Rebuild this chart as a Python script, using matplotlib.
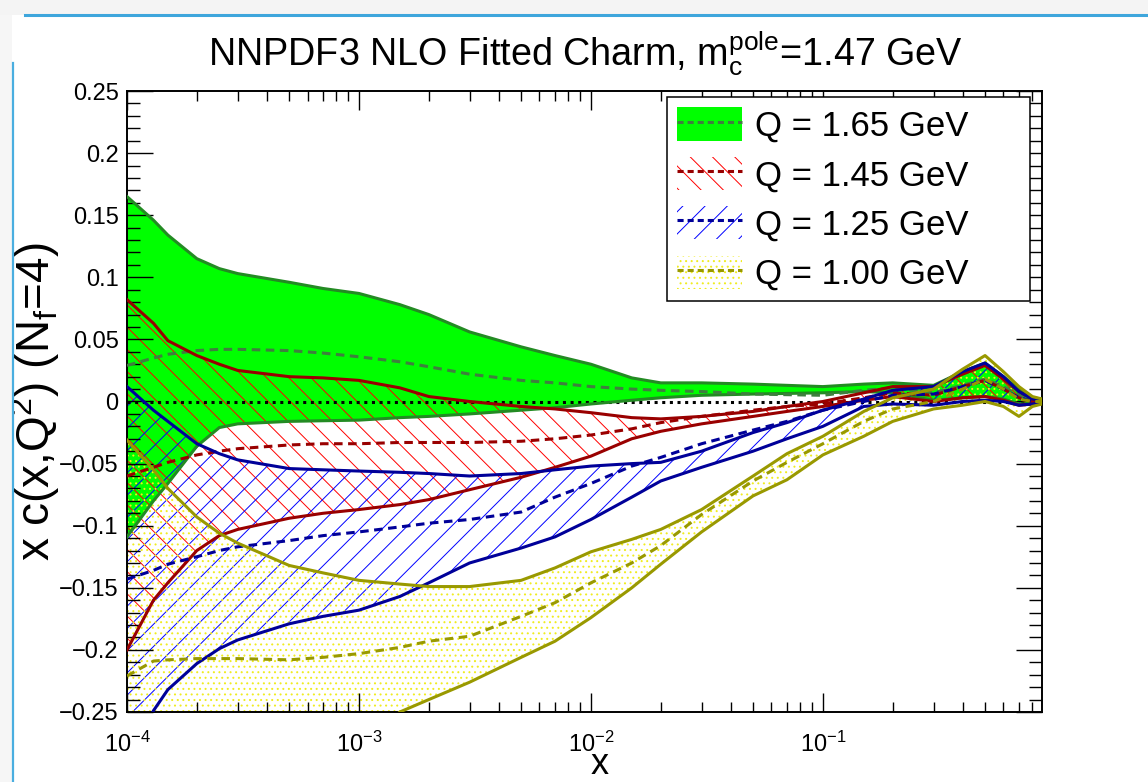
import numpy as np
import matplotlib
matplotlib.use("Agg")
import matplotlib.pyplot as plt
from matplotlib.patches import Patch, Rectangle
from matplotlib.lines import Line2D
from matplotlib.ticker import MultipleLocator, LogLocator, FuncFormatter, NullFormatter

# --- data (x grid shared by all bands) ---
x = [1e-4, 1.3e-4, 1.5e-4, 2e-4, 2.5e-4, 3e-4, 5e-4, 7e-4, 1e-3, 1.5e-3, 2e-3, 3e-3, 5e-3, 7e-3,
     1e-2, 1.5e-2, 2e-2, 3e-2, 5e-2, 7e-2, 0.1, 0.15, 0.2, 0.3, 0.4, 0.5, 0.6, 0.7, 0.8, 0.88]

# Q = 1.65 GeV
q165_up = [0.165, 0.146, 0.134, 0.115, 0.107, 0.103, 0.096, 0.091, 0.087, 0.078, 0.070, 0.056, 0.044, 0.037,
           0.030, 0.019, 0.015, 0.015, 0.014, 0.013, 0.012, 0.014, 0.015, 0.013, 0.024, 0.031, 0.020,
           0.010, 0.003, 0.002]
q165_lo = [-0.109, -0.080, -0.066, -0.036, -0.021, -0.018, -0.016, -0.0155, -0.015, -0.013, -0.012, -0.010,
           -0.007, -0.005, -0.002, 0.001, 0.003, 0.005, 0.006, 0.0065, 0.007, 0.008, 0.007, 0.001, 0.003,
           0.004, 0.002, -0.002, -0.002, -0.001]
q165_cv = [0.029, 0.035, 0.038, 0.041, 0.042, 0.042, 0.041, 0.039, 0.036, 0.032, 0.028, 0.022, 0.017, 0.015,
           0.012, 0.010, 0.009, 0.008, 0.006, 0.0055, 0.005, 0.009, 0.011, 0.007, 0.013, 0.018, 0.012,
           0.005, 0.001, 0.000]

# Q = 1.45 GeV
q145_up = [0.082, 0.063, 0.049, 0.037, 0.030, 0.025, 0.020, 0.019, 0.017, 0.011, 0.004, 0.000, -0.004,
           -0.006, -0.009, -0.013, -0.014, -0.012, -0.008, -0.004, 0.000, 0.007, 0.012, 0.012, 0.022, 0.029,
           0.018, 0.008, 0.002, 0.001]
q145_lo = [-0.200, -0.160, -0.146, -0.120, -0.108, -0.103, -0.094, -0.090, -0.087, -0.083, -0.079, -0.071,
           -0.061, -0.053, -0.044, -0.030, -0.024, -0.018, -0.012, -0.008, -0.004, 0.001, 0.004, 0.000, 0.003,
           0.004, 0.001, -0.003, -0.002, -0.001]
q145_cv = [-0.060, -0.053, -0.049, -0.043, -0.040, -0.038, -0.035, -0.034, -0.034, -0.033, -0.033, -0.033,
           -0.032, -0.030, -0.027, -0.022, -0.017, -0.012, -0.007, -0.004, -0.002, 0.003, 0.007, 0.005, 0.012,
           0.017, 0.010, 0.003, 0.000, 0.000]

# Q = 1.25 GeV
q125_up = [0.012, -0.007, -0.016, -0.034, -0.042, -0.047, -0.054, -0.055, -0.056, -0.057, -0.058, -0.060,
           -0.058, -0.055, -0.052, -0.050, -0.049, -0.040, -0.025, -0.017, -0.007, 0.002, 0.009, 0.012, 0.024,
           0.031, 0.020, 0.008, 0.002, 0.001]
q125_lo = [-0.300, -0.249, -0.232, -0.211, -0.199, -0.192, -0.179, -0.173, -0.168, -0.157, -0.146, -0.130,
           -0.118, -0.109, -0.095, -0.077, -0.064, -0.053, -0.040, -0.030, -0.020, -0.004, -0.002, -0.003,
           0.000, 0.001, 0.000, -0.003, -0.002, -0.001]
q125_cv = [-0.143, -0.136, -0.131, -0.125, -0.120, -0.117, -0.112, -0.108, -0.105, -0.101, -0.098, -0.095,
           -0.089, -0.077, -0.066, -0.052, -0.045, -0.034, -0.023, -0.016, -0.007, 0.000, 0.005, 0.006, 0.012,
           0.017, 0.010, 0.003, 0.000, 0.000]

# Q = 1.00 GeV
q100_up = [-0.031, -0.055, -0.070, -0.093, -0.106, -0.114, -0.132, -0.138, -0.144, -0.147, -0.149, -0.149,
           -0.144, -0.134, -0.121, -0.111, -0.103, -0.087, -0.060, -0.042, -0.028, -0.008, 0.003, 0.010, 0.026,
           0.037, 0.024, 0.012, 0.004, 0.002]
q100_lo = [-0.50, -0.46, -0.44, -0.41, -0.39, -0.37, -0.33, -0.30, -0.28, -0.250, -0.240, -0.226, -0.206,
           -0.193, -0.174, -0.150, -0.131, -0.105, -0.076, -0.063, -0.043, -0.028, -0.016, -0.006, -0.003,
           0.000, -0.004, -0.012, -0.004, -0.002]
q100_cv = [-0.221, -0.209, -0.208, -0.207, -0.207, -0.207, -0.208, -0.206, -0.203, -0.198, -0.193, -0.189,
           -0.173, -0.162, -0.146, -0.130, -0.116, -0.091, -0.064, -0.049, -0.034, -0.016, -0.006, 0.000, 0.010,
           0.018, 0.010, 0.002, 0.000, 0.000]

labels = ["Q = 1.65 GeV", "Q = 1.45 GeV", "Q = 1.25 GeV", "Q = 1.00 GeV"]

# --- style ---
plt.rcParams['font.family'] = ['Liberation Sans', 'DejaVu Sans']
plt.rcParams['mathtext.fontset'] = 'custom'
plt.rcParams['mathtext.rm'] = 'Liberation Sans'
plt.rcParams['mathtext.it'] = 'Liberation Sans:italic'
plt.rcParams['mathtext.default'] = 'regular'
plt.rcParams['hatch.linewidth'] = 0.35

DPI = 200
fig = plt.figure(figsize=(1148 / DPI, 782 / DPI), dpi=DPI)

# slide decoration around the plot
fig.add_artist(Rectangle((0, 0), 0.0105, 1, transform=fig.transFigure, color='#f6f6f6', lw=0))
fig.add_artist(Rectangle((0, 0.981), 1, 0.019, transform=fig.transFigure, color='#f4f4f4', lw=0))
fig.add_artist(Line2D([0.022, 1.0], [0.981, 0.981], transform=fig.transFigure, color='#3ea6dc', lw=1.1))
fig.add_artist(Line2D([0.0115, 0.0115], [0.0, 0.92], transform=fig.transFigure, color='#4aaee0', lw=0.8))

ax = fig.add_axes([127 / 1148, 70 / 782, 915 / 1148, 621 / 782])
ax.set_xscale('log')

bands = [
    (q165_up, q165_lo, q165_cv, dict(facecolor='#00ff00', edgecolor='none', hatch=None), '#238b23', '#3f7f3f'),
    (q145_up, q145_lo, q145_cv, dict(facecolor='none', edgecolor='#ff0000', hatch='\\\\\\'), '#990000', '#990000'),
    (q125_up, q125_lo, q125_cv, dict(facecolor='none', edgecolor='#0000ff', hatch='///'), '#000099', '#000099'),
    (q100_up, q100_lo, q100_cv, dict(facecolor='none', edgecolor='#f0ec20', hatch='......'), '#999900', '#999900'),
]

for up, lo, cv, fill_kw, edge, dash in bands:
    ax.fill_between(x, lo, up, linewidth=0, zorder=1, **fill_kw)

ax.axhline(0, color='black', lw=1.1, ls=(0, (1, 1.5)), zorder=2)

handles = []
for (up, lo, cv, fill_kw, edge, dash), lab in zip(bands, labels):
    ax.plot(x, up, color=edge, lw=1.1, zorder=3)
    ax.plot(x, lo, color=edge, lw=1.1, zorder=3)
    ax.plot(x, cv, color=dash, lw=1.1, ls=(0, (2.8, 1.8)), zorder=3)
    p = Patch(linewidth=0, **fill_kw)
    l = Line2D([], [], color=dash, lw=1.1, ls=(0, (2.0, 1.3)))
    handles.append((p, l))

ax.set_xlim(1e-4, 0.88)
ax.set_ylim(-0.25, 0.25)

# axes and ticks, ROOT style
ax.yaxis.set_major_locator(MultipleLocator(0.05))
ax.yaxis.set_minor_locator(MultipleLocator(0.01))
ax.yaxis.set_major_formatter(FuncFormatter(
    lambda v, pos: ('%g' % round(v, 3)).replace('-', '\u2212') if abs(v) > 1e-9 else '0'))
ax.xaxis.set_major_locator(LogLocator(base=10, numticks=10))
ax.xaxis.set_minor_locator(LogLocator(base=10, subs=np.arange(2, 10), numticks=20))
ax.xaxis.set_minor_formatter(NullFormatter())

ax.tick_params(axis='both', which='both', direction='in', top=True, right=True, width=0.5, labelsize=8.5)
ax.tick_params(axis='y', which='major', length=9.5, pad=3)
ax.tick_params(axis='y', which='minor', length=4.7)
ax.tick_params(axis='x', which='major', length=7, pad=7)
ax.tick_params(axis='x', which='minor', length=3.5)
for s in ax.spines.values():
    s.set_linewidth(0.7)

ax.set_xlabel('x', fontsize=13)
ax.xaxis.set_label_coords(0.517, -0.056)
ax.set_ylabel(r'x c(x,Q$^{2}$) (N$_{f}$=4)', fontsize=16.5)
ax.yaxis.set_label_coords(-0.071, 0.5)

fig.text(585 / 1148, 1 - 65 / 782, r'NNPDF3 NLO Fitted Charm, m$_{c}^{pole}$=1.47 GeV',
         ha='center', va='baseline', fontsize=13.6)

leg = ax.legend(handles, labels, loc='upper left', mode='expand',
                bbox_to_anchor=((667 - 127) / 915, (712 - 97) / 621, 363 / 915, 0.0),
                borderaxespad=0, fontsize=12.5, handlelength=1.87, handleheight=1.1,
                handletextpad=0.37, labelspacing=0.4, borderpad=0.3, fancybox=False,
                framealpha=1, edgecolor='black')
leg.get_frame().set_linewidth(0.55)

fig.savefig('out.png', dpi=DPI)
